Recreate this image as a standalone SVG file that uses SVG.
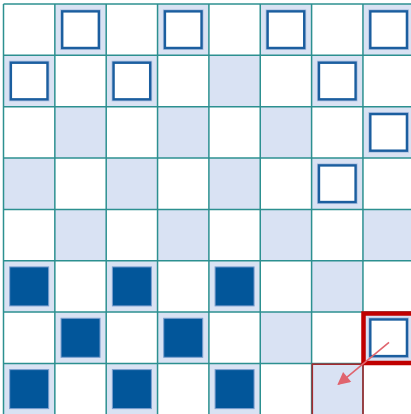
<svg xmlns="http://www.w3.org/2000/svg" width="411" height="414" viewBox="0 0 411 414">
<defs>
<style>
.dk{fill:#d9e2f3}
.grid line{stroke:#2c9090;stroke-width:1.5}
.hol{fill:#ffffff;stroke:#1b5e9f;stroke-width:2.4}
.halo{fill:none;stroke:#aabfe0;stroke-width:4}
.sol{fill:#02569a;stroke:#7b9fcf;stroke-width:1}
</style>
<marker id="ah" viewBox="0 0 10 10" refX="9" refY="5" markerWidth="9" markerHeight="8" orient="auto" markerUnits="strokeWidth">
<path d="M0,0 L10,5 L0,10 z" fill="#e0646e"/>
</marker>
<g id="hp"><rect class="halo" x="-18.3" y="-18.3" width="36.6" height="36.6"/><rect class="hol" x="-18.3" y="-18.3" width="36.6" height="36.6"/></g>
<rect id="sp" class="sol" x="-19.5" y="-19.5" width="39" height="39"/>
</defs>
<rect width="411" height="414" fill="#ffffff"/>
<g id="board">
<rect class="dk" x="54.85" y="4" width="51.35" height="51.35"/>
<rect class="dk" x="157.55" y="4" width="51.35" height="51.35"/>
<rect class="dk" x="260.25" y="4" width="51.35" height="51.35"/>
<rect class="dk" x="362.95" y="4" width="51.35" height="51.35"/>
<rect class="dk" x="3.5" y="55.35" width="51.35" height="51.35"/>
<rect class="dk" x="106.2" y="55.35" width="51.35" height="51.35"/>
<rect class="dk" x="208.9" y="55.35" width="51.35" height="51.35"/>
<rect class="dk" x="311.6" y="55.35" width="51.35" height="51.35"/>
<rect class="dk" x="54.85" y="106.7" width="51.35" height="51.35"/>
<rect class="dk" x="157.55" y="106.7" width="51.35" height="51.35"/>
<rect class="dk" x="260.25" y="106.7" width="51.35" height="51.35"/>
<rect class="dk" x="362.95" y="106.7" width="51.35" height="51.35"/>
<rect class="dk" x="3.5" y="158.05" width="51.35" height="51.35"/>
<rect class="dk" x="106.2" y="158.05" width="51.35" height="51.35"/>
<rect class="dk" x="208.9" y="158.05" width="51.35" height="51.35"/>
<rect class="dk" x="311.6" y="158.05" width="51.35" height="51.35"/>
<rect class="dk" x="54.85" y="209.4" width="51.35" height="51.35"/>
<rect class="dk" x="157.55" y="209.4" width="51.35" height="51.35"/>
<rect class="dk" x="260.25" y="209.4" width="51.35" height="51.35"/>
<rect class="dk" x="362.95" y="209.4" width="51.35" height="51.35"/>
<rect class="dk" x="3.5" y="260.75" width="51.35" height="51.35"/>
<rect class="dk" x="106.2" y="260.75" width="51.35" height="51.35"/>
<rect class="dk" x="208.9" y="260.75" width="51.35" height="51.35"/>
<rect class="dk" x="311.6" y="260.75" width="51.35" height="51.35"/>
<rect class="dk" x="54.85" y="312.1" width="51.35" height="51.35"/>
<rect class="dk" x="157.55" y="312.1" width="51.35" height="51.35"/>
<rect class="dk" x="260.25" y="312.1" width="51.35" height="51.35"/>
<rect class="dk" x="362.95" y="312.1" width="51.35" height="51.35"/>
<rect class="dk" x="3.5" y="363.45" width="51.35" height="51.35"/>
<rect class="dk" x="106.2" y="363.45" width="51.35" height="51.35"/>
<rect class="dk" x="208.9" y="363.45" width="51.35" height="51.35"/>
<rect class="dk" x="311.6" y="363.45" width="51.35" height="51.35"/>
</g>
<g class="grid" id="grid">
<line x1="3.5" y1="4" x2="3.5" y2="415"/>
<line x1="54.85" y1="4" x2="54.85" y2="415"/>
<line x1="106.2" y1="4" x2="106.2" y2="415"/>
<line x1="157.55" y1="4" x2="157.55" y2="415"/>
<line x1="208.9" y1="4" x2="208.9" y2="415"/>
<line x1="260.25" y1="4" x2="260.25" y2="415"/>
<line x1="311.6" y1="4" x2="311.6" y2="415"/>
<line x1="362.95" y1="4" x2="362.95" y2="415"/>
<line x1="3.5" y1="4" x2="412" y2="4"/>
<line x1="3.5" y1="55.35" x2="412" y2="55.35"/>
<line x1="3.5" y1="106.7" x2="412" y2="106.7"/>
<line x1="3.5" y1="158.05" x2="412" y2="158.05"/>
<line x1="3.5" y1="209.4" x2="412" y2="209.4"/>
<line x1="3.5" y1="260.75" x2="412" y2="260.75"/>
<line x1="3.5" y1="312.1" x2="412" y2="312.1"/>
<line x1="3.5" y1="363.45" x2="412" y2="363.45"/>
</g>
<g id="pieces">
<g id="p-r0c1"><use href="#hp" x="80.525" y="29.675"/></g>
<g id="p-r0c3"><use href="#hp" x="183.225" y="29.675"/></g>
<g id="p-r0c5"><use href="#hp" x="285.925" y="29.675"/></g>
<g id="p-r0c7"><use href="#hp" x="388.625" y="29.675"/></g>
<g id="p-r1c0"><use href="#hp" x="29.175" y="81.025"/></g>
<g id="p-r1c2"><use href="#hp" x="131.875" y="81.025"/></g>
<g id="p-r1c6"><use href="#hp" x="337.275" y="81.025"/></g>
<g id="p-r2c7"><use href="#hp" x="388.625" y="132.375"/></g>
<g id="p-r3c6"><use href="#hp" x="337.275" y="183.725"/></g>
<g id="p-r5c0"><use href="#sp" x="29.175" y="286.425"/></g>
<g id="p-r5c2"><use href="#sp" x="131.875" y="286.425"/></g>
<g id="p-r5c4"><use href="#sp" x="234.575" y="286.425"/></g>
<g id="p-r6c1"><use href="#sp" x="80.525" y="337.775"/></g>
<g id="p-r6c3"><use href="#sp" x="183.225" y="337.775"/></g>
<g id="p-r6c7"><use href="#hp" x="388.625" y="337.775"/></g>
<g id="p-r7c0"><use href="#sp" x="29.175" y="389.125"/></g>
<g id="p-r7c2"><use href="#sp" x="131.875" y="389.125"/></g>
<g id="p-r7c4"><use href="#sp" x="234.575" y="389.125"/></g>
</g>
<g id="target"><rect x="312.3" y="364.2" width="50.7" height="52" fill="none" stroke="#a52a2e" stroke-width="1.6"/></g>
<g id="selected"><rect x="363.5" y="313.5" width="51" height="49.5" fill="none" stroke="#c00000" stroke-width="4.5"/></g>
<g id="connectors">
<line x1="389" y1="342.3" x2="338.3" y2="384.3" stroke="#e0646e" stroke-width="1.6" marker-end="url(#ah)"/>
</g>
</svg>
